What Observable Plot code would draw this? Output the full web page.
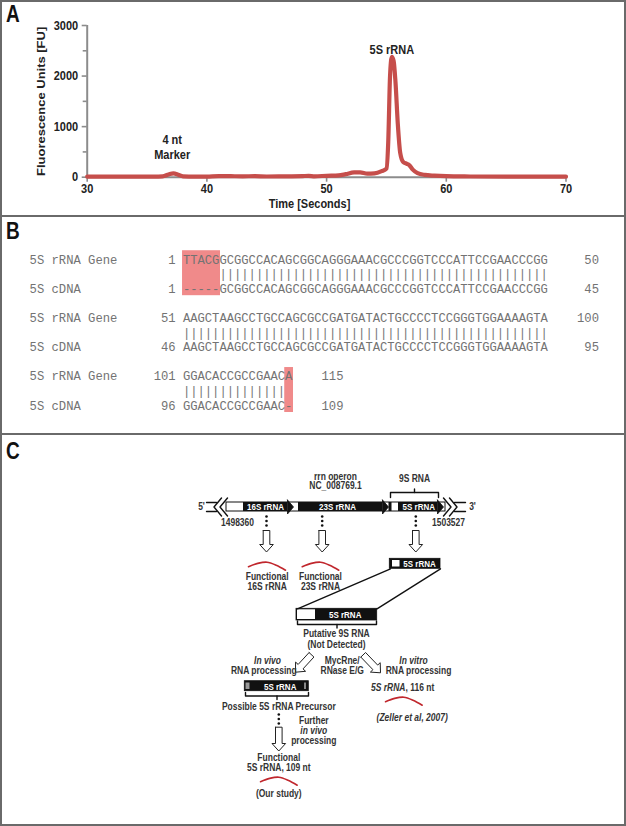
<!DOCTYPE html>
<html><head><meta charset="utf-8">
<script src="https://cdn.jsdelivr.net/npm/d3@7"></script>
<script src="https://cdn.jsdelivr.net/npm/@observablehq/plot@0.6"></script>
<style>
html,body{margin:0;padding:0;background:#fff;}
#fig{position:relative;width:626px;height:826px;overflow:hidden;font-family:"Liberation Sans",Arial,sans-serif;background:#fff;}
.panel{position:absolute;left:0;width:626px;}
.lbl{position:absolute;left:6px;font-weight:bold;font-size:19px;line-height:1;color:#111;transform:scaleY(1.24);transform-origin:0 0;}
.hline{position:absolute;left:0;width:626px;height:2px;background:#6a6a6a;}
#frame{position:absolute;left:0;top:0;width:626px;height:826px;box-sizing:border-box;border:2px solid #6a6a6a;pointer-events:none;}
</style></head>
<body>
<div id="fig">
  <div class="panel" id="pA" style="top:0;height:216px"></div>
  <div class="panel" id="pB" style="top:216px;height:218px"></div>
  <div class="panel" id="pC" style="top:434px;height:392px"></div>
  <div class="hline" style="top:215px"></div>
  <div class="hline" style="top:433px"></div>
  <div id="frame"></div>
  <div class="lbl" style="top:2px">A</div>
  <div class="lbl" style="top:218.7px">B</div>
  <div class="lbl" style="top:438.7px">C</div>
</div>
<script>
// ---------- Panel A data ----------
const times = [30,32,34,35.5,36.3,36.8,37.2,37.6,38.0,39,40,41,42,43,44,45,46,47,48,48.5,49,50,51,51.6,52.3,52.8,53.4,54.0,54.6,55.0,55.15,55.3,55.45,55.6,55.75,55.95,56.15,56.4,56.7,56.9,57.2,57.6,58.2,59,60,62,65,70];
const fu    = [10,10,10,12,18,55,75,50,15,10,12,22,20,18,20,14,15,18,22,25,18,28,35,60,95,95,70,75,120,170,700,2000,2380,2300,1900,1050,480,300,265,240,150,80,45,30,20,14,10,10];
const xTicks = [30,40,50,60,70];
const yTicks = [0,1000,2000,3000];
const yMinorTicks = [500,1500,2500];
const peakLabels = [{t:55.45, v:2520, text:"5S rRNA"}, {t:37.1, v:740, text:"4 nt"}, {t:37.1, v:450, text:"Marker"}];

// ---------- Panel B data ----------
const rowNames = ["5S rRNA Gene","5S cDNA"];
const geneSeq = ["TTACGGCGGCCACAGCGGCAGGGAAACGCCCGGTCCCATTCCGAACCCGG","AAGCTAAGCCTGCCAGCGCCGATGATACTGCCCCTCCGGGTGGAAAAGTA","GGACACCGCCGAACA"];
const cdnaSeq = ["-----GCGGCCACAGCGGCAGGGAAACGCCCGGTCCCATTCCGAACCCGG","AAGCTAAGCCTGCCAGCGCCGATGATACTGCCCCTCCGGGTGGAAAAGTA","GGACACCGCCGAAC-"];
const geneStart = [1,51,101], geneEnd = [50,100,115];
const cdnaStart = [1,46,96], cdnaEnd = [45,95,109];
const mismatchBlocks = [{block:0, from:0, to:5}, {block:2, from:14, to:15}];

const fontSans = "Liberation Sans, Arial, sans-serif";

// vertical stretch of lettering, as in the reference figure
function stretchText(svg, k){
  d3.select(svg).selectAll("text").each(function(){
    const t = this.getAttribute("transform");
    if (t) {
      this.setAttribute("transform", t + (t.includes("rotate") ? ` scale(${k},1)` : ` scale(1,${k})`));
    } else {
      const x = +this.getAttribute("x") || 0, y = +this.getAttribute("y") || 0;
      this.setAttribute("transform", `translate(${x},${y}) scale(1,${k}) translate(${-x},${-y})`);
    }
  });
}

// ---------- Panel A ----------
const curve = times.map((t,i)=>({t, v:fu[i]}));
const mL = 86.7, mR = 626-565.5, mT = 25, mB = 216-176.7;
const pxPerSec = (565.5-86.7)/40, pxPerFU = (176.7-25)/3000;
const plotA = Plot.plot({
  width:626, height:216,
  marginLeft:mL, marginRight:mR, marginTop:mT, marginBottom:mB,
  x:{domain:[30,70]},
  y:{domain:[0,3000]},
  style:{fontFamily:fontSans, background:"transparent", overflow:"visible"},
  marks:[
    Plot.ruleX([30], {y1:0, y2:3000, stroke:"#8c8c8c", strokeWidth:2}),
    Plot.ruleY([0], {x1:30, x2:70, stroke:"#8c8c8c", strokeWidth:2}),
    Plot.axisY(yTicks, {anchor:"left", tickSize:5, tickPadding:4, stroke:"#8c8c8c", strokeWidth:1.6, fill:"#222", fontSize:11, fontWeight:"bold", label:null, tickFormat:d=>String(d)}),
    Plot.axisY(yMinorTicks, {anchor:"left", tickSize:4, tickPadding:0, stroke:"#8c8c8c", strokeWidth:1.6, label:null, tickFormat:()=>""}),
    Plot.axisX(xTicks, {anchor:"bottom", tickSize:5, tickPadding:2, stroke:"#8c8c8c", strokeWidth:1.6, fill:"#222", fontSize:11, fontWeight:"bold", label:null, tickFormat:d=>String(d)}),
    Plot.line(curve, {x:"t", y:"v", stroke:"#c64e4b", strokeWidth:4.2, curve:"monotone-x", strokeLinejoin:"round", strokeLinecap:"round"}),
    Plot.text(peakLabels, {x:"t", y:"v", text:"text", fontSize:11, fontWeight:"bold", fill:"#222"}),
    Plot.text(["Fluorescence Units [FU]"], {x:30-(86.7-40.7)/pxPerSec, y:1500, text:d=>d, rotate:-90, fontSize:11, fontWeight:"bold", fill:"#222"}),
    Plot.text(["Time [Seconds]"], {x:30+(309-86.7)/pxPerSec, y:-(203-176.7)/pxPerFU, text:d=>d, fontSize:11, fontWeight:"bold", fill:"#222"})
  ]
});
stretchText(plotA, 1.18);
document.getElementById("pA").appendChild(plotA);

// ---------- Panel B ----------
const chars = [], labels = [], bars = [];
geneSeq.forEach((g,b)=>{
  const c = cdnaSeq[b];
  const k0 = 4*b;
  labels.push({k:k0, col:-21, text:rowNames[0], anchor:"start"});
  labels.push({k:k0+2, col:-21, text:rowNames[1], anchor:"start"});
  labels.push({k:k0, col:-1, text:String(geneStart[b]), anchor:"end"});
  labels.push({k:k0+2, col:-1, text:String(cdnaStart[b]), anchor:"end"});
  labels.push({k:k0, col:g.length+7, text:String(geneEnd[b]), anchor:"end"});
  labels.push({k:k0+2, col:c.length+7, text:String(cdnaEnd[b]), anchor:"end"});
  for (let i=0;i<g.length;i++){
    chars.push({k:k0, col:i+0.5, ch:g[i]});
    chars.push({k:k0+2, col:i+0.5, ch:c[i]});
    if (g[i]===c[i]) bars.push({k:k0+1, col:i+0.5, ch:"|"});
  }
});
const hl = mismatchBlocks.map(m=>({x1:m.from-0.05, x2:m.to+0.15, y1:4*m.block-0.58, y2:4*m.block+2.5}));
const plotB = Plot.plot({
  width:626, height:218, margin:0,
  x:{domain:[-182.4/7.3, (626-182.4)/7.3], range:[0,626], axis:null},
  y:{domain:[-42.7/14.6, (218-42.7)/14.6], range:[0,218], axis:null},
  style:{fontFamily:"Liberation Mono, Courier New, monospace", background:"transparent", overflow:"visible"},
  marks:[
    Plot.rect(hl, {x1:"x1", x2:"x2", y1:"y1", y2:"y2", fill:"#f08a8a"}),
    Plot.text(chars, {x:"col", y:"k", text:"ch", fontSize:12.2, fill:"#737373"}),
    Plot.text(bars, {x:"col", y:"k", text:"ch", fontSize:12.2, fill:"#737373"}),
    Plot.text(labels.filter(d=>d.anchor==="start"), {x:"col", y:"k", text:"text", textAnchor:"start", fontSize:12.2, fill:"#737373"}),
    Plot.text(labels.filter(d=>d.anchor==="end"), {x:"col", y:"k", text:"text", textAnchor:"end", fontSize:12.2, fill:"#737373"})
  ]
});
stretchText(plotB, 1.12);
document.getElementById("pB").appendChild(plotB);

// ---------- Panel C (schematic, page-pixel layout) ----------
const ink = "#111";
const barY1 = 502, barY2 = 511;
const geneSegments = [{x1:243,x2:287},{x1:298,x2:382},{x1:388.5,x2:391.5},{x1:398,x2:437}];
const segmentArrows = [287,382,437];
const boxes = [
  {x1:389.3,x2:440,y1:558.3,y2:568.3,fill:ink,stroke:ink},
  {x1:392,x2:399.5,y1:560,y2:566.5,fill:"#fff",stroke:"none"},
  {x1:296,x2:376.7,y1:608.3,y2:620,fill:ink,stroke:ink},
  {x1:297,x2:315,y1:609.3,y2:619,fill:"#fff",stroke:"none"},
  {x1:244.3,x2:308.3,y1:680.7,y2:690.7,fill:ink,stroke:ink},
  {x1:245.5,x2:249.5,y1:682.5,y2:689,fill:"#999",stroke:"none"},
  {x1:304.5,x2:305.5,y1:682.5,y2:689,fill:"#fff",stroke:"none"}
];
const polylines = [
  [[206,502],[216,502]],[[206,511],[216,511]],
  [[221,497.5],[213.5,506.5],[221,515.5]],[[227,497.5],[219.5,506.5],[227,515.5]],
  [[443,497.5],[450.5,506.5],[443,515.5]],[[449,497.5],[456.5,506.5],[449,515.5]],
  [[454,502],[465,502]],[[454,511],[465,511]],
  [[390,497],[390,492],[438,492],[438,497]],[[414,492],[414,488.5]],
  [[390,568.3],[297,608.3]],[[440,568.3],[376.5,608.3]],
  [[297,620.5],[297,624],[376,624],[376,620.5]],[[336.5,624],[336.5,627.5]],
  [[245,692],[245,695.5],[308,695.5],[308,692]],[[276.5,695.5],[276.5,699]]
];
const dotCols = [{x:266,y0:516},{x:321.7,y0:516},{x:415.3,y0:516},{x:278.3,y0:714}];
const hollowArrows = [
  {x0:266,y0:530,x1:266,y1:551.5},
  {x0:321.7,y0:530,x1:321.7,y1:551.5},
  {x0:415.3,y0:530,x1:415.3,y1:551.5},
  {x0:311,y0:654.3,x1:295,y1:671.7},
  {x0:362.7,y0:654.3,x1:380,y1:672.3},
  {x0:278.3,y0:726.7,x1:278.3,y1:750.5}
];
const waves = [{xa:248,xb:285,yp:561.7},{xa:301.7,xb:338.3,yp:561.7},{xa:385,xb:421.7,yp:696.7},{xa:260,xb:296.7,yp:776.7}];
const waveShape = [[0,4.5],[0.25,1.2],[0.5,0],[0.75,3],[1,8]];
const textsBold = [
  ["rrn operon",335,476],["NC_008769.1",335,485.5],["9S RNA",414,478],
  ["5'",201,506.5],["3'",472,506.5],["1498360",237,522],["1503527",448,522],
  ["Functional",266.7,576],["16S rRNA",266.7,586],["Functional",320,576],["23S rRNA",320,586],
  ["Putative 9S RNA",336,633.5],["(Not Detected)",336,644],
  ["RNA processing",263.3,670.7],["MycRne/",341.7,660.7],["RNase E/G",341.7,670.7],["RNA processing",418,670.7],
  ["Possible 5S rRNA Precursor",278.3,706.7],["Further",313.3,720],["processing",313.3,740],
  ["Functional",278.3,757.7],["5S rRNA, 109 nt",278.3,767.7],["(Our study)",278.3,793.3]
];
const textsItalic = [["In vivo",267,660.7],["In vitro",413,660.7],["(Zeller et al, 2007)",411.7,717.7],["in vivo",313.3,730]];
const textsWhite = [["16S rRNA",265,506.5],["23S rRNA",337,506.5],["5S rRNA",418.3,506.5],["5S rRNA",419,563.5],["5S rRNA",344.7,614.2],["5S rRNA",279.7,686]];

const lineData = [];
polylines.forEach((pl,i)=>pl.forEach(p=>lineData.push({id:"p"+i, x:p[0], y:p[1]})));
const arrowPoly = [];
hollowArrows.forEach((a,i)=>{
  const dx=a.x1-a.x0, dy=a.y1-a.y0, L=Math.hypot(dx,dy), ux=dx/L, uy=dy/L, nx=-uy, ny=ux;
  const s=3.3, h=6.8, hl=7.5, bx=a.x1-ux*hl, by=a.y1-uy*hl;
  const pts=[[a.x0+nx*s,a.y0+ny*s],[bx+nx*s,by+ny*s],[bx+nx*h,by+ny*h],[a.x1,a.y1],[bx-nx*h,by-ny*h],[bx-nx*s,by-ny*s],[a.x0-nx*s,a.y0-ny*s],[a.x0+nx*s,a.y0+ny*s]];
  pts.forEach(p=>arrowPoly.push({id:"a"+i, x:p[0], y:p[1]}));
});
const triPoly = [];
segmentArrows.forEach((x,i)=>{[[x,499.5],[x+6,506.5],[x,513.5],[x,499.5]].forEach(p=>triPoly.push({id:"t"+i,x:p[0],y:p[1]}));});
const wavePts = [];
waves.forEach((w,i)=>waveShape.forEach(([f,d])=>wavePts.push({id:"w"+i, x:w.xa+f*(w.xb-w.xa), y:w.yp+d})));
const dots = [];
dotCols.forEach(d=>[0,4.5,9].forEach(o=>dots.push({x:d.x, y:d.y0+o})));
const toObj = a=>a.map(([text,x,y])=>({text,x,y}));

const plotC = Plot.plot({
  width:626, height:392, margin:0,
  x:{domain:[0,626], range:[0,626], axis:null},
  y:{domain:[434,826], range:[0,392], axis:null},
  style:{fontFamily:fontSans, background:"transparent", overflow:"visible"},
  marks:[
    Plot.rect([{x1:226,x2:445}], {x1:"x1", x2:"x2", y1:barY1, y2:barY2, fill:"#fff", stroke:ink, strokeWidth:1}),
    Plot.rect(geneSegments, {x1:"x1", x2:"x2", y1:barY1, y2:barY2, fill:ink}),
    Plot.line(triPoly, {x:"x", y:"y", z:"id", fill:ink, stroke:ink, strokeWidth:0.8}),
    Plot.rect(boxes, {x1:"x1", x2:"x2", y1:"y1", y2:"y2", fill:"fill", stroke:"stroke", strokeWidth:0.8}),
    Plot.line(lineData, {x:"x", y:"y", z:"id", stroke:ink, strokeWidth:1.4}),
    Plot.dot(dots, {x:"x", y:"y", r:1.3, fill:ink, stroke:null}),
    Plot.line(arrowPoly, {x:"x", y:"y", z:"id", fill:"#fff", stroke:"#222", strokeWidth:1}),
    Plot.line(wavePts, {x:"x", y:"y", z:"id", stroke:"#c0272d", strokeWidth:1.6, curve:"catmull-rom"}),
    Plot.text(toObj(textsBold), {x:"x", y:"y", text:"text", fontSize:8.5, fontWeight:"bold", fill:"#333"}),
    Plot.text(toObj(textsItalic), {x:"x", y:"y", text:"text", fontSize:8.5, fontWeight:"bold", fontStyle:"italic", fill:"#333"}),
    Plot.text([{text:"5S rRNA",x:405,y:687.3}], {x:"x", y:"y", text:"text", textAnchor:"end", fontSize:8.5, fontWeight:"bold", fontStyle:"italic", fill:"#333"}),
    Plot.text([{text:", 116 nt",x:405,y:687.3}], {x:"x", y:"y", text:"text", textAnchor:"start", fontSize:8.5, fontWeight:"bold", fill:"#333"}),
    Plot.text(toObj(textsWhite), {x:"x", y:"y", text:"text", fontSize:8, fontWeight:"bold", fill:"#fff"})
  ]
});
stretchText(plotC, 1.2);
document.getElementById("pC").appendChild(plotC);
</script>
</body></html>
